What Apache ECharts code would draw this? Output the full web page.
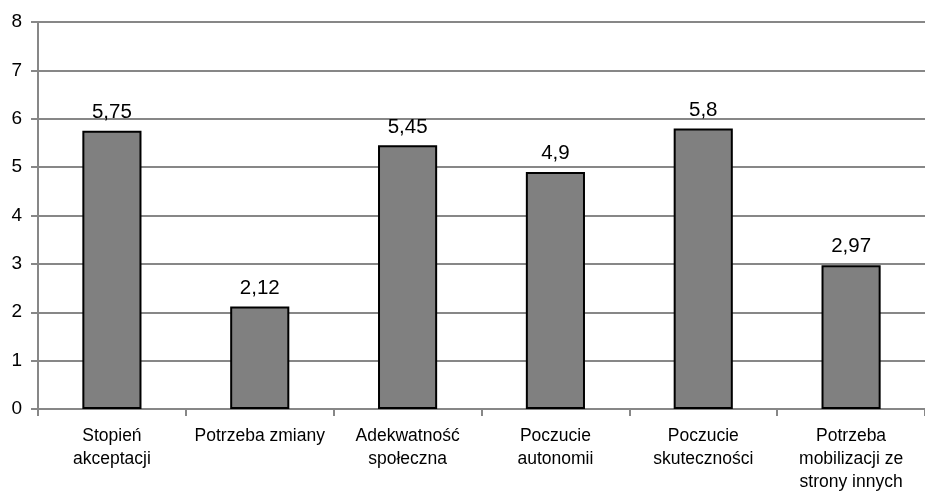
<!DOCTYPE html>
<html>
<head>
<meta charset="utf-8">
<script src="https://cdn.jsdelivr.net/npm/echarts@6/dist/echarts.min.js"></script>
<style>
  html, body { margin: 0; padding: 0; background: #fff; }
  #chart { width: 925px; height: 494px; }
</style>
</head>
<body>
<div id="chart"></div>
<script>
// Category names (x axis) and mean scores per scale
const categories = [
  'Stopień\nakceptacji',
  'Potrzeba zmiany',
  'Adekwatność\nspołeczna',
  'Poczucie\nautonomii',
  'Poczucie\nskuteczności',
  'Potrzeba\nmobilizacji ze\nstrony innych'
];
const values = [5.75, 2.12, 5.45, 4.9, 5.8, 2.97];
const yTicks = [0, 1, 2, 3, 4, 5, 6, 7, 8];

const gridGray = '#878787';
const fontFamily = 'Liberation Sans, Arial, sans-serif';

const chart = echarts.init(document.getElementById('chart'), null, { renderer: 'canvas' });
chart.setOption({
  animation: false,
  backgroundColor: '#ffffff',
  grid: { left: 38, top: 22, width: 896, height: 392, containLabel: false },
  xAxis: {
    type: 'category',
    data: categories,
    axisLine: { show: true, lineStyle: { color: gridGray, width: 2 } },
    axisTick: { show: true, length: 7, lineStyle: { color: gridGray, width: 2 } },
    axisLabel: {
      color: '#000', fontSize: 17.5, fontFamily, lineHeight: 23, margin: 16,
      interval: 0, align: 'center'
    },
    splitLine: { show: false }
  },
  yAxis: {
    type: 'value',
    min: yTicks[0],
    max: yTicks[yTicks.length - 1],
    interval: 1,
    axisLine: { show: true, lineStyle: { color: gridGray, width: 2 } },
    axisTick: { show: true, length: 7, lineStyle: { color: gridGray, width: 2 } },
    axisLabel: { color: '#000', fontSize: 19, fontFamily, margin: 16 },
    splitLine: { show: true, lineStyle: { color: gridGray, width: 2 } }
  },
  series: [{
    type: 'bar',
    data: values,
    barWidth: '40%',
    itemStyle: { color: '#808080', borderColor: '#000', borderWidth: 2 },
    label: {
      show: true, position: 'top', distance: 8,
      color: '#000', fontSize: 20.5, fontFamily,
      formatter: p => String(p.value).replace('.', ',')
    }
  }]
});
</script>
</body>
</html>
